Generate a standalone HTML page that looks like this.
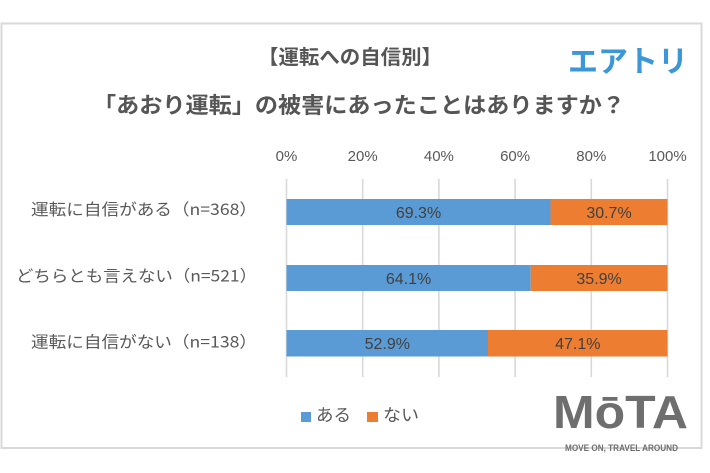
<!DOCTYPE html>
<html><head><meta charset="utf-8"><style>
html,body{margin:0;padding:0;background:#fff;}
svg{display:block;}
text{font-family:"Liberation Sans","Noto Sans CJK JP",sans-serif;}
.jp{font-family:"Noto Sans CJK JP","Liberation Sans",sans-serif;}
</style></head><body>
<svg width="710" height="473" viewBox="0 0 710 473" xmlns="http://www.w3.org/2000/svg">
<rect x="0" y="0" width="710" height="473" fill="#fff"/>
<rect x="1.5" y="23.5" width="700" height="424.5" fill="#fff" stroke="#d9d9d9" stroke-width="2"/>
<!-- titles -->
<text class="jp" x="258" y="64" font-size="20" font-weight="bold" fill="#555" textLength="184" lengthAdjust="spacingAndGlyphs">【運転への自信別】</text>
<text class="jp" x="93" y="113" font-size="22" font-weight="bold" fill="#555" textLength="532" lengthAdjust="spacingAndGlyphs">「あおり運転」の被害にあったことはありますか？</text>
<text class="jp" x="568" y="72" font-size="30" font-weight="bold" fill="#3b97d6" textLength="120" lengthAdjust="spacingAndGlyphs">エアトリ</text>
<!-- gridlines -->
<g stroke="#d9d9d9" stroke-width="1.6">
<line x1="286.5" y1="179" x2="286.5" y2="377"/>
<line x1="362.7" y1="179" x2="362.7" y2="377"/>
<line x1="438.9" y1="179" x2="438.9" y2="377"/>
<line x1="515.1" y1="179" x2="515.1" y2="377"/>
<line x1="591.3" y1="179" x2="591.3" y2="377"/>
<line x1="667.5" y1="179" x2="667.5" y2="377"/>
</g>
<!-- tick labels -->
<g font-size="15" fill="#595959" text-anchor="middle">
<text x="286.5" y="161">0%</text>
<text x="362.7" y="161">20%</text>
<text x="438.9" y="161">40%</text>
<text x="515.1" y="161">60%</text>
<text x="591.3" y="161">80%</text>
<text x="667.5" y="161">100%</text>
</g>
<!-- bars -->
<rect x="286.5" y="199" width="264" height="26" fill="#5b9bd5"/>
<rect x="550.5" y="199" width="117" height="26" fill="#ed7d31"/>
<rect x="286.5" y="265" width="244.2" height="26" fill="#5b9bd5"/>
<rect x="530.7" y="265" width="136.8" height="26" fill="#ed7d31"/>
<rect x="286.5" y="330" width="201.5" height="26.5" fill="#5b9bd5"/>
<rect x="488" y="330" width="179.5" height="26.5" fill="#ed7d31"/>
<!-- data labels -->
<g font-size="16" fill="#404040" text-anchor="middle">
<text x="418.5" y="218">69.3%</text>
<text x="609" y="218">30.7%</text>
<text x="408.6" y="284">64.1%</text>
<text x="599.1" y="284">35.9%</text>
<text x="387.3" y="349">52.9%</text>
<text x="577.8" y="349">47.1%</text>
</g>
<!-- category labels -->
<g fill="#595959" font-size="16">
<text class="jp" x="31" y="215" textLength="226" lengthAdjust="spacingAndGlyphs">運転に自信がある（n=368）</text>
<text class="jp" x="16" y="281.5" textLength="241" lengthAdjust="spacingAndGlyphs">どちらとも言えない（n=521）</text>
<text class="jp" x="31" y="347.5" textLength="226" lengthAdjust="spacingAndGlyphs">運転に自信がない（n=138）</text>
</g>
<!-- legend -->
<rect x="301" y="412" width="10" height="10" fill="#5b9bd5"/>
<text class="jp" x="316" y="421" font-size="17" fill="#595959" textLength="35" lengthAdjust="spacingAndGlyphs">ある</text>
<rect x="367" y="412" width="11" height="10" fill="#ed7d31"/>
<text class="jp" x="383" y="421" font-size="17" fill="#595959" textLength="36" lengthAdjust="spacingAndGlyphs">ない</text>
<!-- MOTA logo -->
<text x="553" y="428" font-size="46" font-weight="bold" fill="#6e6e6e" textLength="135" lengthAdjust="spacingAndGlyphs">MōTA</text>
<text x="565" y="451" font-size="9.5" font-weight="bold" fill="#6e6e6e" textLength="113" lengthAdjust="spacingAndGlyphs">MOVE ON, TRAVEL AROUND</text>
</svg>
</body></html>
